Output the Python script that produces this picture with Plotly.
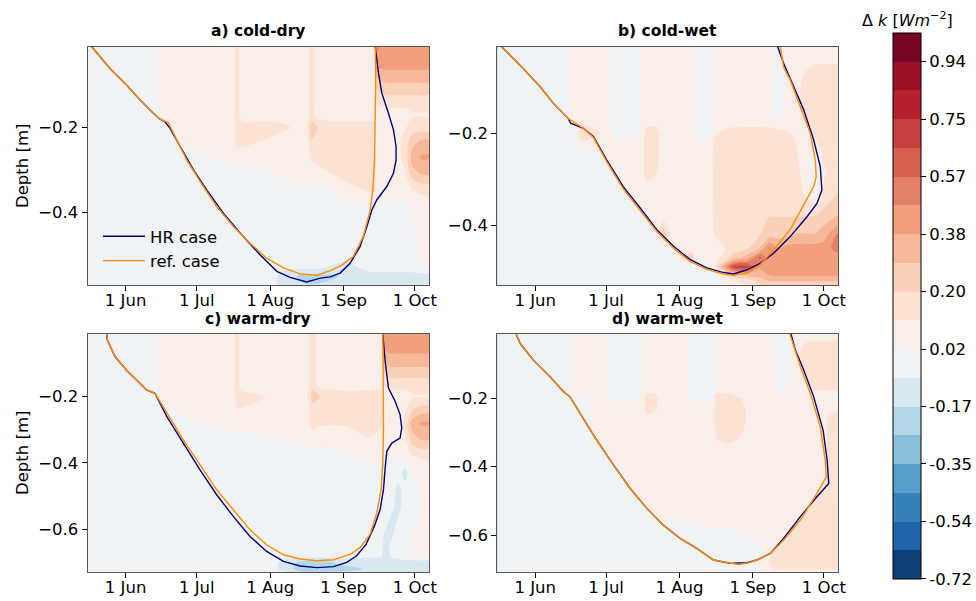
import numpy as np
import plotly.graph_objects as go
from plotly.colors import sample_colorscale, diverging
from datetime import datetime, timedelta

# ---------------- colour levels ----------------
LEVEL_MIN = -0.72
LEVEL_MAX = 1.03
N_BANDS = 19
CBAR_TICK_TEXT = ["-0.72", "-0.54", "-0.35", "-0.17", "0.02", "0.20", "0.38", "0.57", "0.75", "0.94"]
MONTH_TICKS = ["2019-06-01", "2019-07-01", "2019-08-01", "2019-09-01", "2019-10-01"]
MONTH_LABELS = ["1 Jun", "1 Jul", "1 Aug", "1 Sep", "1 Oct"]
DOY_RANGE = [136, 280]
PANEL_TITLES = ["a) cold-dry", "b) cold-wet", "c) warm-dry", "d) warm-wet"]
DEPTH_RANGES = [[-0.570, -0.011], [-0.529, -0.012], [-0.730, -0.010], [-0.709, -0.011]]

# ---------------- panel a (cold-dry) field: columns = DOY_A, rows = DEPTH_A ----------------
DOY_A = [136, 165, 167, 180, 197, 199, 201, 212, 220, 228, 230.5, 233, 245, 256, 257, 258, 262, 266, 270, 273, 277, 280]
DEPTH_A = [-0.01, -0.05, -0.08, -0.11, -0.14, -0.17, -0.20, -0.23, -0.27, -0.31, -0.35, -0.40, -0.45, -0.50, -0.53, -0.55, -0.575]
DK_A = [
    [-.03, -.03, -.03, -.03, -.03, -.03, -.03, -.03, -.03, -.03, -.03, -.03, -.03, -.03, -.03, -.03, -.03],
    [-.03, -.03, -.03, -.03, -.03, -.03, -.03, -.03, -.03, -.03, -.03, -.03, -.03, -.03, -.03, -.03, -.03],
    [.06, .06, .06, .06, .06, .06, -.03, -.03, -.03, -.03, -.03, -.03, -.03, -.03, -.03, -.03, -.03],
    [.06, .06, .06, .06, .06, .06, .06, .06, -.03, -.03, -.03, -.03, -.03, -.03, -.03, -.03, -.03],
    [.06, .06, .06, .06, .06, .06, .06, .06, .06, -.03, -.03, -.03, -.03, -.03, -.03, -.03, -.03],
    [.15, .15, .15, .15, .15, .15, .15, .15, .06, -.03, -.03, -.03, -.03, -.03, -.03, -.03, -.03],
    [.06, .06, .06, .06, .06, .06, .15, .15, .06, -.03, -.03, -.03, -.03, -.03, -.03, -.03, -.03],
    [.06, .06, .06, .06, .06, .06, .15, .10, .06, .00, -.03, -.03, -.03, -.06, -.06, -.03, -.03],
    [.06, .06, .06, .06, .06, .06, .12, .06, .06, .06, -.03, -.03, -.03, -.03, -.06, -.12, -.12],
    [.06, .06, .06, .06, .06, .06, .06, .06, .06, .06, -.03, -.03, -.03, -.03, -.06, -.21, -.15],
    [.15, .15, .15, .15, .15, .15, .25, .20, .12, .06, -.03, -.03, -.03, -.03, -.06, -.21, -.15],
    [.06, .06, .06, .06, .06, .06, .20, .15, .15, .06, -.03, -.03, -.03, -.03, -.06, -.21, -.15],
    [.06, .06, .06, .06, .06, .06, .15, .15, .15, .15, .06, -.03, -.03, -.03, -.12, -.15, -.12],
    [.06, .06, .06, .06, .06, .06, .15, .15, .15, .15, .12, -.03, -.03, -.03, -.03, -.12, -.12],
    [.06, .06, .06, .06, .06, .06, .15, .15, .15, .15, .12, -.03, -.03, -.03, -.03, -.12, -.12],
    [.50, .43, .30, .20, .12, .06, .06, .06, .06, .06, .06, -.03, -.03, -.03, -.03, -.12, -.12],
    [.43, .43, .34, .25, .15, .06, .06, .06, .06, .06, .06, -.03, -.03, -.03, -.03, -.12, -.12],
    [.43, .43, .34, .25, .15, .06, .06, .06, .06, .06, .06, -.03, -.03, -.03, -.03, -.12, -.12],
    [.43, .43, .34, .25, .15, .06, .10, .15, .15, .10, .06, -.03, -.03, -.03, -.03, -.12, -.12],
    [.43, .43, .34, .25, .15, .10, .15, .25, .34, .25, .10, .06, .00, -.03, -.03, -.12, -.12],
    [.43, .43, .34, .25, .15, .10, .15, .30, .40, .30, .12, .06, .06, .06, .00, -.12, -.12],
    [.43, .43, .34, .25, .15, .10, .15, .30, .40, .30, .12, .06, .06, .06, .03, -.12, -.12],
]

# ---------------- panel b (cold-wet) field ----------------
DOY_B = [136, 165, 167, 172, 183, 185, 195, 197, 199, 203, 206, 210, 218, 220, 226, 228, 236, 242, 247, 251, 254, 255.5, 258, 262, 266, 270, 274, 280]
DEPTH_B = [-0.01, -0.06, -0.10, -0.14, -0.17, -0.20, -0.24, -0.28, -0.33, -0.38, -0.42, -0.45, -0.47, -0.49, -0.505, -0.52, -0.535]
DK_B = [
    [-.03, -.03, -.03, -.03, -.03, -.03, -.03, -.03, -.03, -.03, -.03, -.03, -.03, -.03, -.03, -.03, -.03],
    [-.03, -.03, -.03, -.03, -.03, -.03, -.03, -.03, -.03, -.03, -.03, -.03, -.03, -.03, -.03, -.03, -.03],
    [.06, .06, .06, .06, .06, -.03, -.03, -.03, -.03, -.03, -.03, -.03, -.03, -.03, -.03, -.03, -.03],
    [.06, .06, .06, .06, .06, .20, -.03, -.03, -.03, -.03, -.03, -.03, -.03, -.03, -.03, -.03, -.03],
    [.06, .06, .06, .06, .06, .06, .06, -.03, -.03, -.03, -.03, -.03, -.03, -.03, -.03, -.03, -.03],
    [-.03, -.03, -.03, -.03, -.03, .00, .06, .00, -.03, -.03, -.03, -.03, -.03, -.03, -.03, -.03, -.03],
    [-.03, -.03, -.03, -.03, -.03, .00, .06, .06, .06, -.03, -.03, -.03, -.03, -.03, -.03, -.03, -.03],
    [.06, .06, .06, .06, .06, .06, .06, .06, .06, -.03, -.03, -.03, -.03, -.03, -.03, -.03, -.03],
    [.06, .06, .06, .06, .06, .15, .15, .15, .06, -.03, -.03, -.03, -.03, -.03, -.03, -.03, -.03],
    [.06, .06, .06, .06, .06, .15, .15, .12, .06, .06, -.03, -.03, -.03, -.03, -.03, -.03, -.03],
    [.06, .06, .06, .06, .06, .06, .06, .06, .06, .06, .30, -.03, -.03, -.03, -.03, -.03, -.03],
    [.06, .06, .06, .06, .06, .06, .06, .06, .06, .06, .06, .00, -.03, -.03, -.03, -.03, -.03],
    [.06, .06, .06, .06, .06, .06, .06, .06, .06, .06, .06, .06, .30, -.03, -.03, -.03, -.03],
    [-.03, -.03, -.03, -.03, -.03, .00, .06, .06, .06, .06, .06, .06, .06, -.03, -.03, -.03, -.03],
    [-.03, -.03, -.03, -.03, -.03, .00, .06, .06, .06, .06, .06, .06, .06, .03, -.03, -.03, -.03],
    [.06, .06, .06, .06, .06, .10, .15, .15, .15, .15, .12, .06, .06, .10, -.03, -.03, -.03],
    [.06, .06, .06, .06, .06, .15, .15, .15, .15, .15, .15, .15, .25, .70, .30, .10, .06],
    [.06, .06, .06, .06, .06, .15, .15, .15, .15, .15, .15, .20, .35, .70, .35, .15, .10],
    [.06, .06, .06, .06, .06, .15, .15, .15, .15, .15, .20, .30, .60, .40, .35, .25, .15],
    [.06, .06, .06, .06, .06, .15, .15, .15, .15, .20, .25, .50, .40, .40, .40, .30, .20],
    [-.03, -.03, -.03, -.03, .00, .15, .15, .15, .15, .20, .25, .40, .43, .43, .43, .30, .20],
    [-.03, -.03, -.03, -.03, .00, .15, .15, .15, .15, .20, .25, .40, .43, .43, .43, .30, .20],
    [.06, .06, .06, .06, .06, .12, .15, .15, .15, .20, .25, .43, .43, .43, .43, .30, .20],
    [.06, .06, .06, .06, .06, .10, .12, .15, .15, .20, .30, .43, .43, .43, .43, .30, .20],
    [.06, .10, .15, .15, .10, .06, .06, .06, .10, .20, .30, .43, .43, .43, .43, .30, .20],
    [.06, .12, .20, .20, .20, .15, -.03, -.03, -.03, .20, .30, .43, .43, .43, .43, .30, .20],
    [.06, .12, .20, .20, .20, .15, .15, .10, .12, .25, .34, .43, .43, .43, .43, .30, .20],
    [.06, .12, .20, .20, .20, .15, .15, .15, .20, .30, .50, .52, .43, .43, .43, .30, .20],
]

# ---------------- panel c (warm-dry) field ----------------
DOY_C = [136, 165, 167, 180, 197, 199, 201, 213, 220, 228, 231, 234, 245, 255, 260, 261, 264, 267, 270, 273, 277, 280]
DEPTH_C = [-0.01, -0.05, -0.09, -0.13, -0.16, -0.20, -0.24, -0.28, -0.33, -0.38, -0.43, -0.48, -0.54, -0.60, -0.65, -0.68, -0.70, -0.72, -0.735]
DK_C = [
    [-.03, -.03, -.03, -.03, -.03, -.03, -.03, -.03, -.03, -.03, -.03, -.03, -.03, -.03, -.03, -.03, -.03, -.03, -.03],
    [-.03, -.03, -.03, -.03, -.03, -.03, -.03, -.03, -.03, -.03, -.03, -.03, -.03, -.03, -.03, -.03, -.03, -.03, -.03],
    [.06, .06, .06, .06, .06, .06, -.03, -.03, -.03, -.03, -.03, -.03, -.03, -.03, -.03, -.03, -.03, -.03, -.03],
    [.06, .06, .06, .06, .06, .06, .06, .00, -.03, -.03, -.03, -.03, -.03, -.03, -.03, -.03, -.03, -.03, -.03],
    [.06, .06, .06, .06, .06, .06, .06, .06, -.03, -.03, -.03, -.03, -.03, -.03, -.03, -.03, -.03, -.03, -.03],
    [.15, .15, .15, .15, .15, .15, .10, .06, -.03, -.03, -.03, -.03, -.03, -.03, -.03, -.03, -.03, -.03, -.03],
    [.06, .06, .06, .06, .06, .15, .10, .06, -.03, -.03, -.03, -.03, -.03, -.03, -.03, -.03, -.03, -.03, -.03],
    [.06, .06, .06, .06, .06, .10, .06, .06, .00, -.03, -.03, -.03, -.03, -.03, -.03, -.03, -.03, -.03, -.03],
    [.06, .06, .06, .06, .06, .06, .06, .06, .03, -.03, -.03, -.03, -.03, -.03, -.03, -.03, -.12, -.12, -.06],
    [.06, .06, .06, .06, .06, .06, .06, .06, .03, -.03, -.03, -.03, -.03, -.03, -.03, -.03, -.21, -.25, -.12],
    [.15, .15, .15, .15, .15, .25, .15, .15, .06, -.03, -.03, -.03, -.03, -.03, -.03, -.03, -.21, -.25, -.12],
    [.06, .06, .06, .06, .06, .20, .15, .12, .06, -.03, -.03, -.03, -.03, -.03, -.03, -.03, -.21, -.25, -.12],
    [.06, .06, .06, .06, .06, .15, .15, .12, .06, .00, -.03, -.03, -.03, -.03, -.03, -.03, -.12, -.21, -.12],
    [.06, .06, .06, .06, .06, .15, .15, .15, .10, .06, -.03, -.03, -.03, -.03, -.03, -.06, -.12, -.15, -.12],
    [.06, .06, .06, .06, .06, .15, .15, .12, .06, .03, -.03, -.03, -.03, -.03, -.03, -.06, -.12, -.15, -.12],
    [.43, .40, .30, .20, .12, .06, .06, .06, .06, .00, -.03, -.03, -.03, -.06, -.12, -.15, -.15, -.15, -.12],
    [.43, .43, .34, .25, .15, .06, .06, .06, .06, .03, -.03, -.03, -.06, -.12, -.06, -.06, -.12, -.12, -.06],
    [.43, .43, .34, .25, .15, .06, .06, .06, .06, .03, -.03, -.10, -.10, -.03, -.03, -.03, -.12, -.12, -.06],
    [.43, .43, .34, .25, .15, .06, .10, .15, .10, .03, -.12, -.03, -.03, -.03, -.03, .00, -.12, -.12, -.06],
    [.43, .43, .34, .25, .15, .10, .20, .34, .25, .10, .03, -.03, -.03, .00, .03, .00, -.12, -.12, -.06],
    [.43, .43, .34, .25, .15, .10, .25, .40, .30, .12, .06, .06, .03, .06, .06, .03, -.12, -.12, -.06],
    [.43, .43, .34, .25, .15, .10, .25, .40, .30, .12, .06, .06, .03, .06, .06, .03, -.12, -.12, -.06],
]

# ---------------- panel d (warm-wet) field ----------------
DOY_D = [136, 166, 167.5, 182, 183, 196, 197.5, 199, 203, 205, 216, 217.5, 227, 228.5, 234, 240, 245, 253, 254, 259, 260, 264, 268, 272, 276, 280]
DEPTH_D = [-0.01, -0.05, -0.09, -0.13, -0.17, -0.20, -0.23, -0.27, -0.31, -0.36, -0.41, -0.46, -0.51, -0.55, -0.59, -0.62, -0.65, -0.68, -0.715]
DK_D = [
    [-.03, -.03, -.03, -.03, -.03, -.03, -.03, -.03, -.03, -.03, -.03, -.03, -.03, -.03, -.03, -.03, -.03, -.03, -.03],
    [-.03, -.03, -.03, -.03, -.03, -.03, -.03, -.03, -.03, -.03, -.03, -.03, -.03, -.03, -.03, -.03, -.03, -.03, -.03],
    [.06, .06, .06, .06, .06, -.03, -.03, -.03, -.03, -.03, -.03, -.03, -.03, -.03, -.03, -.03, -.03, -.03, -.03],
    [.06, .06, .06, .06, .06, .06, .06, .06, .06, .00, -.03, -.03, -.03, -.03, -.03, -.03, -.03, -.03, -.03],
    [-.03, -.03, -.03, -.03, -.03, .00, .06, .06, .06, .03, -.03, -.03, -.03, -.03, -.03, -.03, -.03, -.03, -.03],
    [-.03, -.03, -.03, -.03, -.03, .00, .06, .06, .06, .06, .06, .06, .00, -.03, -.03, -.03, -.03, -.03, -.03],
    [.06, .06, .06, .06, .06, .06, .06, .06, .06, .06, .06, .06, .00, -.03, -.03, -.03, -.03, -.03, -.03],
    [.06, .06, .06, .06, .06, .15, .15, .06, .06, .06, .06, .06, .03, -.03, -.03, -.03, -.03, -.03, -.03],
    [.06, .06, .06, .06, .06, .15, .12, .06, .06, .06, .06, .06, .06, .00, -.03, -.03, -.03, -.03, -.03],
    [.06, .06, .06, .06, .06, .06, .06, .06, .06, .06, .06, .06, .06, .03, -.03, -.03, -.03, -.03, -.03],
    [.06, .06, .06, .06, .06, .06, .06, .06, .06, .06, .06, .06, .06, .03, -.03, -.03, -.03, -.03, -.03],
    [-.03, -.03, -.03, -.03, -.03, .00, .06, .06, .06, .06, .06, .06, .06, .03, -.03, -.03, -.03, -.03, -.03],
    [-.03, -.03, -.03, -.03, -.03, .00, .06, .06, .06, .06, .06, .06, .06, .06, .00, -.03, -.03, -.03, -.03],
    [.06, .06, .06, .06, .06, .15, .15, .15, .12, .06, .06, .06, .06, .06, .00, -.03, -.03, -.03, -.03],
    [.06, .06, .06, .06, .06, .15, .15, .15, .15, .06, .06, .06, .06, .06, .00, -.03, -.03, -.03, -.03],
    [.06, .06, .06, .06, .06, .10, .12, .12, .10, .06, .06, .06, .06, .06, .03, -.03, -.03, -.03, -.03],
    [.06, .06, .06, .06, .06, .06, .06, .06, .06, .06, .06, .06, .06, .06, .06, .00, -.03, -.03, .00],
    [.06, .06, .06, .06, .06, .06, .06, .06, .06, .06, .06, .06, .06, .06, .06, .06, .12, .15, .08],
    [-.03, -.03, -.03, -.03, .00, .06, .06, .06, .06, .06, .06, .06, .06, .06, .06, .06, .12, .15, .08],
    [-.03, -.03, -.03, -.03, .00, .06, .06, .06, .06, .06, .06, .06, .06, .06, .06, .12, .15, .15, .08],
    [.06, .06, .06, .06, .06, .06, .06, .06, .06, .06, .06, .06, .06, .06, .10, .15, .15, .15, .08],
    [.06, .10, .12, .06, .06, .06, .06, .06, .06, .06, .06, .06, .06, .10, .15, .15, .15, .15, .08],
    [.06, .15, .15, .15, .12, .06, .06, .06, .06, .06, .06, .06, .10, .15, .15, .15, .15, .15, .08],
    [.06, .15, .15, .15, .12, .06, .06, .06, .06, .06, .06, .10, .15, .15, .15, .15, .15, .15, .08],
    [.06, .15, .15, .15, .12, .06, .10, .12, .12, .12, .12, .12, .15, .15, .15, .15, .15, .15, .08],
    [.06, .15, .15, .15, .12, .06, .10, .15, .15, .15, .15, .15, .15, .15, .15, .15, .15, .15, .08],
]

# ---------------- thaw-depth lines (day of year, depth in m) ----------------
A_HR_DOY = [137.7, 145.4, 152.4, 158.1, 163.7, 166.5, 168.6, 170.7, 175.0, 180.6, 186.2, 193.3, 200.3, 208.7, 215.8, 221.4, 228.4, 234.1, 238.3, 242.5, 246.7, 250.9, 253.8, 255.9, 258.0, 262.2, 265.0, 266.1, 266.1, 265.0, 262.9, 260.1, 258.7, 257.3]
A_HR_DEP = [-0.011, -0.062, -0.101, -0.136, -0.167, -0.181, -0.187, -0.202, -0.245, -0.300, -0.347, -0.402, -0.448, -0.499, -0.538, -0.552, -0.563, -0.554, -0.551, -0.542, -0.519, -0.480, -0.433, -0.394, -0.370, -0.339, -0.308, -0.277, -0.245, -0.206, -0.167, -0.120, -0.073, -0.011]
A_REF_DOY = [137.7, 145.4, 152.4, 158.1, 163.7, 166.5, 170.0, 173.6, 177.8, 183.4, 190.4, 197.5, 204.5, 211.5, 218.6, 225.6, 232.7, 239.0, 243.5, 248.1, 252.3, 255.2, 256.3, 257.0, 257.3, 257.5, 257.4]
A_REF_DEP = [-0.011, -0.062, -0.101, -0.136, -0.167, -0.181, -0.189, -0.230, -0.277, -0.327, -0.386, -0.433, -0.472, -0.507, -0.530, -0.544, -0.547, -0.535, -0.522, -0.503, -0.456, -0.394, -0.347, -0.280, -0.200, -0.100, -0.011]

B_HR_DOY = [137.8, 145.6, 154.1, 159.7, 166.0, 167.0, 172.4, 176.6, 182.3, 189.3, 196.4, 203.4, 210.5, 217.5, 224.6, 231.6, 235.9, 241.5, 247.1, 252.8, 259.8, 266.9, 271.1, 273.2, 272.5, 269.7, 265.5, 261.2, 257.0, 254.5]
B_HR_DEP = [-0.012, -0.052, -0.099, -0.135, -0.168, -0.178, -0.189, -0.207, -0.258, -0.316, -0.362, -0.409, -0.445, -0.474, -0.492, -0.502, -0.505, -0.496, -0.482, -0.460, -0.424, -0.381, -0.352, -0.323, -0.272, -0.214, -0.149, -0.099, -0.048, -0.012]
B_REF_DOY = [137.8, 145.6, 154.1, 159.7, 166.0, 167.0, 172.4, 176.6, 182.3, 189.3, 196.4, 203.4, 210.5, 217.5, 224.6, 231.6, 235.9, 241.5, 247.1, 252.8, 259.8, 266.9, 269.7, 270.8, 270.4, 268.3, 264.1, 259.8, 257.0, 255.6]
B_REF_DEP = [-0.012, -0.052, -0.099, -0.135, -0.168, -0.171, -0.189, -0.209, -0.262, -0.321, -0.367, -0.413, -0.449, -0.478, -0.495, -0.505, -0.508, -0.503, -0.485, -0.453, -0.409, -0.344, -0.316, -0.294, -0.258, -0.200, -0.142, -0.084, -0.056, -0.012]

C_HR_DOY = [144.0, 144.3, 147.5, 152.4, 158.1, 160.9, 164.4, 169.4, 176.4, 183.4, 190.4, 197.5, 204.5, 211.5, 218.6, 225.6, 232.7, 239.7, 245.3, 249.5, 253.5, 257.0, 259.4, 260.8, 261.5, 262.2, 264.3, 267.8, 268.5, 267.8, 265.7, 262.9, 261.5, 260.5]
C_HR_DEP = [-0.010, -0.029, -0.079, -0.120, -0.160, -0.180, -0.190, -0.260, -0.341, -0.421, -0.496, -0.562, -0.622, -0.667, -0.697, -0.711, -0.716, -0.713, -0.700, -0.680, -0.645, -0.590, -0.540, -0.480, -0.415, -0.365, -0.340, -0.325, -0.294, -0.254, -0.214, -0.174, -0.093, -0.010]
C_REF_DOY = [144.0, 144.3, 147.5, 152.4, 158.1, 160.9, 164.4, 169.4, 176.4, 183.4, 190.4, 197.5, 204.5, 211.5, 218.6, 225.6, 232.7, 239.7, 246.7, 251.0, 255.2, 258.0, 259.8, 260.5, 260.8, 260.7, 260.5]
C_REF_DEP = [-0.010, -0.029, -0.079, -0.120, -0.160, -0.180, -0.190, -0.250, -0.331, -0.406, -0.481, -0.542, -0.602, -0.647, -0.677, -0.690, -0.695, -0.692, -0.676, -0.655, -0.615, -0.550, -0.480, -0.400, -0.300, -0.150, -0.010]

D_HR_DOY = [143.9, 145.6, 151.2, 158.3, 163.9, 166.7, 171.0, 178.0, 185.1, 192.1, 199.2, 206.2, 213.3, 220.3, 227.4, 234.4, 238.0, 241.5, 245.7, 251.4, 257.0, 264.1, 271.1, 276.1, 275.4, 273.7, 269.7, 265.5, 262.0, 260.1]
D_HR_DEP = [-0.011, -0.039, -0.088, -0.137, -0.180, -0.195, -0.244, -0.322, -0.395, -0.463, -0.522, -0.571, -0.610, -0.639, -0.673, -0.683, -0.682, -0.681, -0.673, -0.654, -0.610, -0.546, -0.488, -0.449, -0.380, -0.293, -0.195, -0.117, -0.059, -0.011]
D_REF_DOY = [143.9, 145.6, 151.2, 158.3, 163.9, 166.7, 171.0, 178.0, 185.1, 192.1, 199.2, 206.2, 213.3, 220.3, 227.4, 234.4, 238.0, 241.5, 245.7, 251.4, 257.0, 264.1, 271.1, 275.1, 274.6, 272.5, 268.3, 264.1, 261.2, 259.6]
D_REF_DEP = [-0.011, -0.039, -0.088, -0.137, -0.180, -0.195, -0.244, -0.322, -0.395, -0.463, -0.522, -0.571, -0.610, -0.639, -0.673, -0.683, -0.686, -0.682, -0.673, -0.654, -0.615, -0.556, -0.478, -0.429, -0.380, -0.283, -0.185, -0.107, -0.049, -0.011]

# ---------------- helpers ----------------
FONT = "DejaVu Sans"
HR_COLOR = "navy"
REF_COLOR = "darkorange"


def to_date(doy):
    return datetime(2019, 1, 1) + timedelta(days=doy - 1)


cs = (LEVEL_MAX - LEVEL_MIN) / N_BANDS
mids = LEVEL_MIN + (np.arange(N_BANDS) + 0.5) * cs
pos = np.where(mids < 0, 0.5 + 0.5 * mids / abs(LEVEL_MIN), 0.5 + 0.5 * mids / LEVEL_MAX)
band_colors = sample_colorscale(list(diverging.RdBu[::-1]), list(pos))
nc = N_BANDS - 1
colorscale = []
for j, c in enumerate(band_colors):
    lo = 0.0 if j == 0 else (j - 0.5) / nc
    hi = 1.0 if j == nc else (j + 0.5) / nc
    colorscale += [[lo, c], [hi, c]]

cbar_tickvals = [LEVEL_MIN + 2 * k * cs for k in range(len(CBAR_TICK_TEXT))]

panels = [
    (DOY_A, DEPTH_A, DK_A, A_HR_DOY, A_HR_DEP, A_REF_DOY, A_REF_DEP),
    (DOY_B, DEPTH_B, DK_B, B_HR_DOY, B_HR_DEP, B_REF_DOY, B_REF_DEP),
    (DOY_C, DEPTH_C, DK_C, C_HR_DOY, C_HR_DEP, C_REF_DOY, C_REF_DEP),
    (DOY_D, DEPTH_D, DK_D, D_HR_DOY, D_HR_DEP, D_REF_DOY, D_REF_DEP),
]

W, H = 976, 601
X_DOMAINS = [[87.7 / W, 429 / W], [497.3 / W, 838 / W], [87.7 / W, 429 / W], [497.3 / W, 838 / W]]
Y_DOMAINS = [[1 - 285 / H, 1 - 46.7 / H], [1 - 285 / H, 1 - 46.7 / H],
             [1 - 572.3 / H, 1 - 333.7 / H], [1 - 572.3 / H, 1 - 333.7 / H]]
Y_TICKS = [[-0.4, -0.2], [-0.4, -0.2], [-0.6, -0.4, -0.2], [-0.6, -0.4, -0.2]]

fig = go.Figure()
for i, (doy, dep, cols, hd, hz, rd, rz) in enumerate(panels):
    xa = "x" if i == 0 else f"x{i + 1}"
    ya = "y" if i == 0 else f"y{i + 1}"
    z = np.array(cols).T
    fig.add_trace(go.Contour(
        x=[to_date(d) for d in doy], y=dep, z=z,
        xaxis=xa, yaxis=ya,
        autocontour=False,
        contours=dict(start=LEVEL_MIN + cs, end=LEVEL_MAX - cs, size=cs, coloring="fill", showlines=False),
        line=dict(width=0, smoothing=0.8),
        zmin=LEVEL_MIN, zmax=LEVEL_MAX,
        colorscale=colorscale,
        showscale=(i == 0),
        colorbar=dict(
            x=893.3 / W, xanchor="left", xpad=0,
            y=1 - 305.9 / H, yanchor="middle", ypad=0,
            thickness=28, len=546, lenmode="pixels",
            outlinewidth=1, outlinecolor="black",
            tickvals=cbar_tickvals, ticktext=CBAR_TICK_TEXT,
            ticks="outside", ticklen=5, tickcolor="black",
            tickfont=dict(family=FONT, size=16.5, color="black"),
        ),
        hoverinfo="skip",
    ))
    fig.add_trace(go.Scatter(
        x=[to_date(d) for d in hd], y=hz, mode="lines", name="HR case",
        line=dict(color=HR_COLOR, width=1.4), xaxis=xa, yaxis=ya,
        showlegend=(i == 0), hoverinfo="skip",
    ))
    fig.add_trace(go.Scatter(
        x=[to_date(d) for d in rd], y=rz, mode="lines", name="ref. case",
        line=dict(color=REF_COLOR, width=1.4), xaxis=xa, yaxis=ya,
        showlegend=(i == 0), hoverinfo="skip",
    ))

layout_axes = {}
for i in range(4):
    xk = "xaxis" if i == 0 else f"xaxis{i + 1}"
    yk = "yaxis" if i == 0 else f"yaxis{i + 1}"
    ya = "y" if i == 0 else f"y{i + 1}"
    xa = "x" if i == 0 else f"x{i + 1}"
    layout_axes[xk] = dict(
        domain=X_DOMAINS[i], anchor=ya, type="date",
        range=[to_date(DOY_RANGE[0]), to_date(DOY_RANGE[1])],
        tickvals=MONTH_TICKS, ticktext=MONTH_LABELS,
        ticks="outside", ticklen=5, tickwidth=1, tickcolor="black",
        ticklabelstandoff=-5,
        showline=True, mirror=True, linecolor="#555555", linewidth=1.2,
        showgrid=False, zeroline=False,
        tickfont=dict(family=FONT, size=16.5, color="black"),
    )
    layout_axes[yk] = dict(
        domain=Y_DOMAINS[i], anchor=xa, range=DEPTH_RANGES[i],
        tickvals=Y_TICKS[i], ticktext=[f"\u2212{abs(v):.1f}" for v in Y_TICKS[i]],
        ticks="outside", ticklen=5, tickwidth=1, tickcolor="black",
        showline=True, mirror=True, linecolor="#555555", linewidth=1.2,
        showgrid=False, zeroline=False,
        tickfont=dict(family=FONT, size=16.5, color="black"),
    )

annotations = []
title_y = [1 - 42 / H, 1 - 42 / H, 1 - 330 / H, 1 - 330 / H]
for i, t in enumerate(PANEL_TITLES):
    annotations.append(dict(
        text=f"<b>{t}</b>", x=sum(X_DOMAINS[i]) / 2, y=title_y[i], xref="paper", yref="paper",
        xanchor="center", yanchor="bottom", showarrow=False,
        font=dict(family=FONT, size=15.5, color="black"),
    ))
for yc in [166, 453]:
    annotations.append(dict(
        text="Depth [m]", x=22 / W, y=1 - yc / H, xref="paper", yref="paper",
        xanchor="center", yanchor="middle", textangle=-90, showarrow=False,
        font=dict(family=FONT, size=16.5, color="black"),
    ))
annotations.append(dict(
    text="\u0394 <i>k</i> [<i>Wm</i><sup>\u22122</sup>]", x=907 / W, y=1 - 20 / H,
    xref="paper", yref="paper", xanchor="center", yanchor="middle", showarrow=False,
    font=dict(family=FONT, size=16, color="black"),
))

fig.update_layout(
    width=W, height=H,
    margin=dict(l=0, r=0, t=0, b=0, autoexpand=False),
    paper_bgcolor="white", plot_bgcolor="white",
    font=dict(family=FONT, color="black"),
    showlegend=True,
    legend=dict(
        x=98 / W, y=1 - 219 / H, xanchor="left", yanchor="top",
        bgcolor="rgba(0,0,0,0)", borderwidth=0,
        font=dict(family=FONT, size=16.5, color="black"),
        tracegroupgap=0, itemwidth=42,
    ),
    annotations=annotations,
    **layout_axes,
)

fig.write_html("out.html", config={"displayModeBar": False},
               post_script="document.body.style.margin='0';")
